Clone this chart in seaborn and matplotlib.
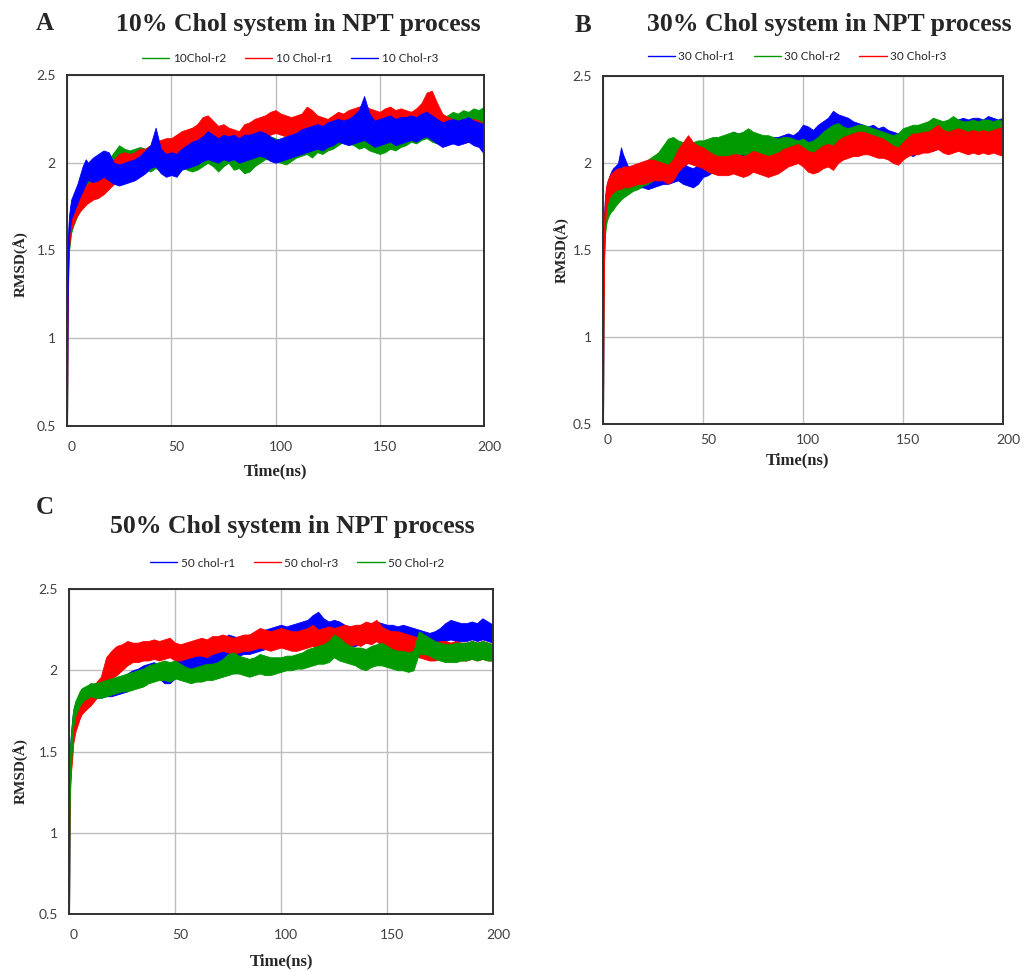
import numpy as np
import pandas as pd
import matplotlib
matplotlib.use("Agg")
import matplotlib.pyplot as plt
import matplotlib.transforms as mtransforms
import seaborn as sns

# ---------------- data (band lower / upper edges) ----------------
time_early = [0, 0.3, 0.6, 1, 1.5, 2, 3, 4, 5, 6, 7.5, 9, 10]
time_late = list(np.arange(12.5, 200.01, 2.5))
time_ns = time_early + time_late

# Panel A: 10% Chol
a_r2_lo = [0.45,1.10,1.35,1.50,1.55,1.60,1.64,1.67,1.70,1.72,1.75,1.78,1.80,
           1.82,1.84,1.86,1.88,1.90,1.93,1.92,1.94,1.95,1.96,
           1.96,1.95,1.97,1.95,1.94,1.96,1.97,1.98,1.96,1.95,
           1.96,1.98,2.00,1.98,1.95,1.98,2.00,1.96,1.97,1.94,
           1.95,1.98,2.00,2.02,2.02,2.01,2.00,1.99,2.01,2.03,
           2.04,2.05,2.03,2.06,2.05,2.07,2.08,2.10,2.12,2.11,
           2.10,2.08,2.09,2.07,2.06,2.05,2.06,2.08,2.07,2.09,
           2.10,2.12,2.11,2.13,2.14,2.12,2.11,2.13,2.12,2.14,
           2.15,2.14,2.16,2.15,2.14,2.16]
a_r2_hi = [1.15,1.40,1.55,1.62,1.68,1.72,1.76,1.80,1.83,1.85,1.88,1.90,1.92,
           1.94,1.96,1.99,2.02,2.06,2.10,2.08,2.07,2.08,2.09,
           2.08,2.10,2.10,2.07,2.06,2.08,2.10,2.11,2.10,2.09,
           2.10,2.13,2.15,2.12,2.08,2.10,2.13,2.10,2.09,2.08,
           2.08,2.10,2.12,2.14,2.15,2.14,2.12,2.11,2.13,2.15,
           2.16,2.17,2.15,2.18,2.17,2.19,2.20,2.22,2.24,2.23,
           2.22,2.21,2.22,2.20,2.18,2.17,2.18,2.20,2.19,2.21,
           2.22,2.24,2.23,2.25,2.26,2.24,2.22,2.26,2.27,2.29,
           2.28,2.30,2.29,2.31,2.30,2.32]
a_r1_lo = [0.45,1.05,1.40,1.52,1.58,1.62,1.65,1.68,1.70,1.72,1.74,1.76,1.77,
           1.79,1.80,1.82,1.85,1.88,1.90,1.91,1.92,1.93,1.94,
           1.96,1.98,2.00,2.01,2.02,2.02,2.04,2.05,2.06,2.07,
           2.08,2.10,2.12,2.10,2.08,2.09,2.08,2.07,2.06,2.08,
           2.10,2.11,2.13,2.14,2.16,2.17,2.16,2.15,2.14,2.13,
           2.14,2.16,2.18,2.15,2.13,2.12,2.14,2.16,2.15,2.16,
           2.17,2.16,2.18,2.17,2.16,2.15,2.16,2.17,2.16,2.17,
           2.16,2.15,2.17,2.19,2.22,2.23,2.19,2.15,2.13,2.12,
           2.12,2.11,2.12,2.13,2.12,2.11]
a_r1_hi = [1.10,1.45,1.58,1.64,1.68,1.71,1.74,1.77,1.80,1.82,1.85,1.87,1.88,
           1.90,1.92,1.94,1.98,2.02,2.05,2.06,2.05,2.06,2.08,
           2.08,2.10,2.12,2.13,2.14,2.14,2.16,2.18,2.19,2.20,
           2.22,2.26,2.27,2.24,2.21,2.22,2.20,2.19,2.18,2.22,
           2.23,2.25,2.26,2.27,2.29,2.30,2.28,2.27,2.26,2.27,
           2.28,2.32,2.30,2.27,2.26,2.25,2.27,2.29,2.28,2.30,
           2.31,2.32,2.33,2.31,2.30,2.29,2.31,2.32,2.30,2.31,
           2.30,2.29,2.31,2.34,2.40,2.41,2.34,2.28,2.26,2.25,
           2.24,2.23,2.24,2.25,2.24,2.22]
a_r3_lo = [0.45,1.20,1.45,1.58,1.64,1.68,1.71,1.74,1.77,1.80,1.84,1.88,1.90,
           1.89,1.90,1.92,1.90,1.88,1.87,1.88,1.89,1.90,1.92,
           1.94,1.97,1.98,1.94,1.92,1.93,1.92,1.96,1.97,1.98,
           1.99,2.01,2.02,2.01,2.00,2.02,2.01,2.02,2.00,2.01,
           2.02,2.03,2.04,2.03,2.01,2.00,2.01,2.02,2.03,2.04,
           2.05,2.06,2.07,2.08,2.07,2.09,2.10,2.12,2.11,2.10,
           2.11,2.12,2.13,2.11,2.09,2.10,2.11,2.12,2.10,2.11,
           2.12,2.13,2.12,2.14,2.15,2.13,2.11,2.09,2.10,2.11,
           2.10,2.11,2.12,2.10,2.09,2.05]
a_r3_hi = [1.30,1.50,1.62,1.70,1.75,1.79,1.82,1.85,1.88,1.92,1.98,2.02,2.00,
           2.03,2.05,2.07,2.06,2.00,1.99,2.00,2.01,2.02,2.04,
           2.07,2.10,2.20,2.08,2.05,2.06,2.05,2.08,2.10,2.12,
           2.13,2.15,2.18,2.16,2.14,2.16,2.15,2.16,2.14,2.16,
           2.16,2.17,2.18,2.17,2.15,2.13,2.14,2.15,2.16,2.17,
           2.19,2.20,2.21,2.22,2.21,2.23,2.24,2.25,2.24,2.25,
           2.27,2.30,2.38,2.28,2.24,2.25,2.26,2.27,2.25,2.26,
           2.26,2.27,2.26,2.28,2.29,2.27,2.25,2.23,2.24,2.25,
           2.24,2.25,2.26,2.24,2.23,2.22]

# Panel B: 30% Chol
b_r1_lo = [0.45,1.30,1.50,1.62,1.70,1.74,1.78,1.80,1.82,1.84,1.85,1.86,1.88,
           1.85,1.85,1.86,1.86,1.85,1.86,1.87,1.88,1.88,1.89,
           1.90,1.88,1.87,1.86,1.88,1.92,1.93,1.95,1.98,2.00,
           2.01,2.02,2.03,2.02,2.02,2.03,2.02,2.03,2.03,2.04,
           2.04,2.05,2.06,2.05,2.07,2.10,2.09,2.08,2.10,2.11,
           2.12,2.14,2.13,2.12,2.11,2.10,2.10,2.09,2.08,2.09,
           2.08,2.09,2.07,2.06,2.05,2.06,2.05,2.04,2.06,2.07,
           2.08,2.07,2.09,2.08,2.07,2.08,2.09,2.10,2.09,2.10,
           2.10,2.09,2.11,2.10,2.09,2.10]
b_r1_hi = [1.35,1.60,1.72,1.80,1.85,1.88,1.92,1.95,1.97,1.98,2.00,2.09,2.05,
           1.98,1.97,1.98,1.98,1.97,1.98,1.99,2.00,2.00,2.01,
           2.02,2.00,1.98,1.97,1.99,2.01,2.02,2.05,2.10,2.13,
           2.15,2.18,2.17,2.15,2.14,2.15,2.14,2.15,2.14,2.15,
           2.15,2.16,2.17,2.16,2.18,2.22,2.21,2.19,2.22,2.24,
           2.26,2.30,2.28,2.27,2.26,2.24,2.23,2.22,2.21,2.22,
           2.20,2.21,2.19,2.18,2.17,2.18,2.19,2.20,2.21,2.22,
           2.23,2.22,2.24,2.23,2.22,2.24,2.25,2.26,2.25,2.26,
           2.26,2.25,2.27,2.26,2.25,2.26]
b_r2_lo = [0.45,1.25,1.45,1.58,1.64,1.67,1.70,1.72,1.73,1.75,1.77,1.79,1.80,
           1.82,1.84,1.85,1.87,1.88,1.90,1.92,1.95,1.97,1.98,
           1.98,1.99,2.00,2.00,2.01,2.01,2.02,2.02,2.03,2.03,
           2.04,2.05,2.05,2.05,2.04,2.05,2.05,2.04,2.04,2.04,
           2.03,2.03,2.04,2.03,2.02,2.02,2.01,2.00,2.01,2.03,
           2.06,2.08,2.09,2.08,2.08,2.09,2.10,2.10,2.09,2.08,
           2.07,2.06,2.05,2.04,2.05,2.08,2.09,2.10,2.10,2.11,
           2.11,2.12,2.12,2.11,2.12,2.13,2.12,2.11,2.12,2.12,
           2.11,2.12,2.12,2.11,2.12,2.12]
b_r2_hi = [1.30,1.55,1.66,1.74,1.78,1.80,1.82,1.84,1.86,1.88,1.90,1.91,1.92,
           1.94,1.96,1.98,2.00,2.02,2.04,2.06,2.10,2.14,2.15,
           2.13,2.12,2.11,2.12,2.13,2.13,2.14,2.15,2.15,2.16,
           2.17,2.18,2.17,2.18,2.20,2.18,2.17,2.16,2.16,2.15,
           2.14,2.15,2.15,2.14,2.13,2.14,2.12,2.13,2.15,2.18,
           2.20,2.22,2.23,2.21,2.20,2.21,2.22,2.22,2.21,2.20,
           2.19,2.18,2.17,2.16,2.17,2.20,2.21,2.22,2.22,2.23,
           2.24,2.26,2.25,2.24,2.25,2.27,2.25,2.24,2.24,2.25,
           2.24,2.25,2.25,2.24,2.25,2.24]
b_r3_lo = [0.45,1.20,1.50,1.65,1.72,1.76,1.80,1.82,1.83,1.84,1.85,1.85,1.86,
           1.86,1.87,1.88,1.88,1.89,1.90,1.90,1.90,1.88,1.90,
           1.95,1.98,2.00,1.99,1.98,1.97,1.95,1.94,1.93,1.93,
           1.93,1.94,1.93,1.92,1.93,1.95,1.94,1.93,1.92,1.93,
           1.94,1.96,1.98,1.99,2.00,1.98,1.95,1.94,1.95,1.97,
           1.98,1.96,2.00,2.02,2.03,2.04,2.04,2.05,2.05,2.04,
           2.03,2.03,2.02,2.00,1.99,2.02,2.04,2.05,2.05,2.06,
           2.06,2.07,2.08,2.06,2.05,2.06,2.07,2.06,2.05,2.06,
           2.05,2.06,2.05,2.06,2.05,2.04]
b_r3_hi = [1.00,1.55,1.70,1.80,1.86,1.89,1.92,1.94,1.95,1.96,1.97,1.97,1.98,
           1.98,1.99,2.00,2.01,2.02,2.02,2.01,2.00,1.99,2.02,
           2.08,2.12,2.16,2.12,2.10,2.09,2.07,2.05,2.04,2.04,
           2.04,2.05,2.05,2.04,2.05,2.07,2.06,2.05,2.04,2.05,
           2.06,2.08,2.09,2.10,2.11,2.09,2.07,2.06,2.08,2.10,
           2.11,2.10,2.13,2.15,2.16,2.17,2.18,2.18,2.17,2.16,
           2.15,2.14,2.12,2.10,2.09,2.12,2.15,2.17,2.17,2.18,
           2.18,2.20,2.22,2.19,2.18,2.19,2.20,2.19,2.18,2.19,
           2.18,2.19,2.18,2.19,2.20,2.21]

# Panel C: 50% Chol
c_r1_lo = [0.45,1.10,1.35,1.45,1.55,1.65,1.70,1.73,1.76,1.78,1.80,1.82,1.83,
           1.83,1.83,1.84,1.84,1.85,1.86,1.87,1.89,1.90,1.92,
           1.93,1.94,1.95,1.92,1.92,1.95,1.98,2.00,2.01,2.00,
           2.00,2.01,2.02,2.04,2.06,2.08,2.08,2.09,2.10,2.10,
           2.11,2.12,2.13,2.14,2.15,2.16,2.16,2.17,2.18,2.18,
           2.19,2.21,2.22,2.20,2.19,2.18,2.17,2.16,2.15,2.15,
           2.16,2.17,2.17,2.18,2.17,2.16,2.16,2.15,2.16,2.15,
           2.15,2.14,2.14,2.13,2.14,2.16,2.18,2.19,2.18,2.18,
           2.18,2.19,2.18,2.19,2.18,2.17]
c_r1_hi = [1.20,1.45,1.55,1.62,1.70,1.75,1.80,1.83,1.86,1.88,1.89,1.90,1.91,
           1.92,1.92,1.93,1.93,1.94,1.96,1.98,2.00,2.01,2.03,
           2.04,2.05,2.03,2.00,2.01,2.05,2.08,2.10,2.11,2.10,
           2.10,2.11,2.12,2.14,2.18,2.22,2.21,2.20,2.21,2.22,
           2.22,2.24,2.25,2.26,2.27,2.28,2.27,2.28,2.29,2.30,
           2.31,2.34,2.36,2.32,2.30,2.31,2.30,2.28,2.27,2.27,
           2.28,2.29,2.29,2.30,2.29,2.28,2.28,2.27,2.28,2.27,
           2.26,2.25,2.24,2.23,2.24,2.26,2.29,2.31,2.30,2.29,
           2.29,2.30,2.29,2.32,2.30,2.28]
c_r3_lo = [0.45,1.05,1.30,1.38,1.45,1.55,1.62,1.66,1.70,1.73,1.75,1.77,1.78,
           1.82,1.86,1.93,1.95,1.97,2.00,2.03,2.05,2.05,2.06,
           2.06,2.07,2.06,2.07,2.08,2.06,2.06,2.07,2.08,2.09,
           2.09,2.08,2.10,2.11,2.12,2.11,2.10,2.11,2.12,2.12,
           2.13,2.14,2.13,2.12,2.13,2.14,2.13,2.12,2.12,2.13,
           2.14,2.15,2.13,2.14,2.15,2.14,2.15,2.16,2.15,2.16,
           2.15,2.17,2.16,2.18,2.15,2.13,2.12,2.12,2.11,2.10,
           2.10,2.08,2.07,2.06,2.06,2.07,2.07,2.06,2.07,2.06,
           2.06,2.07,2.06,2.07,2.06,2.06]
c_r3_hi = [1.15,1.40,1.50,1.55,1.62,1.68,1.73,1.77,1.80,1.82,1.85,1.87,1.90,
           1.92,1.96,2.08,2.12,2.15,2.16,2.18,2.17,2.17,2.18,
           2.18,2.19,2.18,2.19,2.20,2.17,2.16,2.17,2.18,2.19,
           2.20,2.19,2.21,2.21,2.22,2.21,2.20,2.21,2.22,2.22,
           2.24,2.26,2.25,2.24,2.25,2.26,2.25,2.24,2.24,2.25,
           2.26,2.28,2.25,2.26,2.27,2.26,2.27,2.28,2.27,2.28,
           2.28,2.30,2.29,2.31,2.27,2.25,2.24,2.24,2.23,2.22,
           2.21,2.20,2.18,2.17,2.17,2.18,2.18,2.17,2.18,2.17,
           2.17,2.18,2.17,2.18,2.17,2.16]
c_r2_lo = [0.45,1.15,1.30,1.42,1.55,1.65,1.72,1.75,1.78,1.80,1.82,1.83,1.84,
           1.83,1.83,1.84,1.85,1.86,1.87,1.87,1.88,1.89,1.90,
           1.92,1.93,1.94,1.94,1.93,1.95,1.94,1.93,1.92,1.93,
           1.93,1.94,1.94,1.95,1.96,1.97,1.98,1.98,1.97,1.96,
           1.97,1.98,1.97,1.97,1.98,1.99,2.00,2.00,2.01,2.01,
           2.02,2.03,2.04,2.04,2.05,2.08,2.06,2.05,2.04,2.03,
           2.01,2.00,2.02,2.03,2.03,2.02,2.01,2.00,2.00,1.99,
           2.00,2.10,2.10,2.09,2.07,2.06,2.05,2.05,2.05,2.06,
           2.06,2.07,2.06,2.07,2.06,2.06]
c_r2_hi = [1.25,1.45,1.55,1.62,1.70,1.76,1.81,1.84,1.87,1.89,1.90,1.91,1.92,
           1.92,1.93,1.94,1.95,1.96,1.97,1.98,1.99,2.00,2.01,
           2.03,2.04,2.05,2.06,2.05,2.06,2.04,2.02,2.01,2.02,
           2.03,2.04,2.04,2.05,2.07,2.10,2.11,2.09,2.08,2.07,
           2.08,2.10,2.09,2.08,2.08,2.08,2.09,2.09,2.10,2.11,
           2.13,2.14,2.15,2.16,2.18,2.22,2.20,2.17,2.15,2.14,
           2.14,2.13,2.15,2.16,2.17,2.15,2.13,2.12,2.12,2.11,
           2.12,2.24,2.22,2.20,2.18,2.17,2.16,2.16,2.17,2.17,
           2.17,2.18,2.17,2.18,2.17,2.16]

panels = [
    dict(letter="A", title="10% Chol system in NPT process",
         series=[("10Chol-r2", a_r2_lo, a_r2_hi, "#009a00"),
                 ("10 Chol-r1", a_r1_lo, a_r1_hi, "#ff0000"),
                 ("10 Chol-r3", a_r3_lo, a_r3_hi, "#0000ff")]),
    dict(letter="B", title="30% Chol system in NPT process",
         series=[("30 Chol-r1", b_r1_lo, b_r1_hi, "#0000ff"),
                 ("30 Chol-r2", b_r2_lo, b_r2_hi, "#009a00"),
                 ("30 Chol-r3", b_r3_lo, b_r3_hi, "#ff0000")]),
    dict(letter="C", title="50% Chol system in NPT process",
         series=[("50 chol-r1", c_r1_lo, c_r1_hi, "#0000ff"),
                 ("50 chol-r3", c_r3_lo, c_r3_hi, "#ff0000"),
                 ("50 Chol-r2", c_r2_lo, c_r2_hi, "#009a00")]),
]

x_ticks = [0, 50, 100, 150, 200]
y_ticks = [0.5, 1, 1.5, 2, 2.5]
y_tick_labels = ["0.5", "1", "1.5", "2", "2.5"]

# ---------------- figure ----------------
sns.set_style("white")
plt.rcParams["font.family"] = ["Lato", "DejaVu Sans"]

W, H = 1026, 971
fig = plt.figure(figsize=(W / 100, H / 100), dpi=100)

def frac(left, top, right, bottom):
    return [left / W, 1 - bottom / H, (right - left) / W, (bottom - top) / H]

layout = [
    dict(rect=frac(67, 75, 484, 426), letter_xy=(45, 24), title_xy=(298, 25),
         leg=(0.535, 1.046), ylab=(-0.091, 0.46), xlab=(0.5, -0.106), xpad=11),
    dict(rect=frac(603, 76, 1003, 424), letter_xy=(583, 25), title_xy=(829, 25),
         leg=(0.485, 1.057), ylab=(-0.0825, 0.5), xlab=(0.4875, -0.082), xpad=7),
    dict(rect=frac(69, 589, 493, 914), letter_xy=(45, 507), title_xy=(292, 527),
         leg=(0.538, 1.08), ylab=(-0.094, 0.44), xlab=(0.5, -0.12), xpad=11),
]

serif = "Liberation Serif"

for p, lay in zip(panels, layout):
    ax = fig.add_axes(lay["rect"])
    rows = []
    for name, lo, hi, col in p["series"]:
        assert len(lo) == len(time_ns) and len(hi) == len(time_ns), name
        for t, a, b in zip(time_ns, lo, hi):
            rows.append((t, a, name))
            rows.append((t, b, name))
    df = pd.DataFrame(rows, columns=["time", "rmsd", "series"])
    order = [s[0] for s in p["series"]]
    pal = {s[0]: s[3] for s in p["series"]}
    sns.lineplot(data=df, x="time", y="rmsd", hue="series", hue_order=order,
                 palette=pal, estimator="mean", errorbar=("pi", 100),
                 err_kws={"alpha": 1, "linewidth": 0.6}, linewidth=0, ax=ax)

    ax.set_xlim(0, 200)
    ax.set_ylim(0.5, 2.5)
    ax.set_xticks(x_ticks)
    ax.set_xticklabels([str(v) for v in x_ticks])
    ax.set_yticks(y_ticks)
    ax.set_yticklabels(y_tick_labels)
    ax.grid(True, color="#bdbdbd", linewidth=1.0)
    ax.set_axisbelow(True)
    ax.tick_params(length=0, labelsize=10, labelcolor="#404040")
    ax.tick_params(axis="x", pad=lay["xpad"])
    ax.tick_params(axis="y", pad=8)
    for sp in ax.spines.values():
        sp.set_visible(True)
        sp.set_color("#303030")
        sp.set_linewidth(1.4)
    offset = mtransforms.ScaledTranslation(5 / 100, 0, fig.dpi_scale_trans)
    for lbl in ax.get_xticklabels():
        lbl.set_transform(lbl.get_transform() + offset)

    ax.set_xlabel("Time(ns)", fontfamily=serif, fontweight="bold", fontsize=12)
    ax.set_ylabel("RMSD(Å)", fontfamily=serif, fontweight="bold", fontsize=11)
    ax.xaxis.set_label_coords(*lay["xlab"])
    ax.yaxis.set_label_coords(*lay["ylab"])

    sns.move_legend(ax, "center", bbox_to_anchor=lay["leg"], ncol=3,
                    frameon=False, title=None, fontsize=8.5,
                    handlelength=2.3, handletextpad=0.3, columnspacing=1.6)
    for line in ax.get_legend().get_lines():
        line.set_linewidth(1.0)

    lx, ly = lay["letter_xy"]
    fig.text(lx / W, 1 - ly / H, p["letter"], fontfamily=serif,
             fontweight="bold", fontsize=18, ha="center", va="center")
    tx, ty = lay["title_xy"]
    fig.text(tx / W, 1 - ty / H, p["title"], fontfamily=serif,
             fontweight="bold", fontsize=18.5, ha="center", va="center")

fig.savefig("out.png", dpi=100, facecolor="white")
